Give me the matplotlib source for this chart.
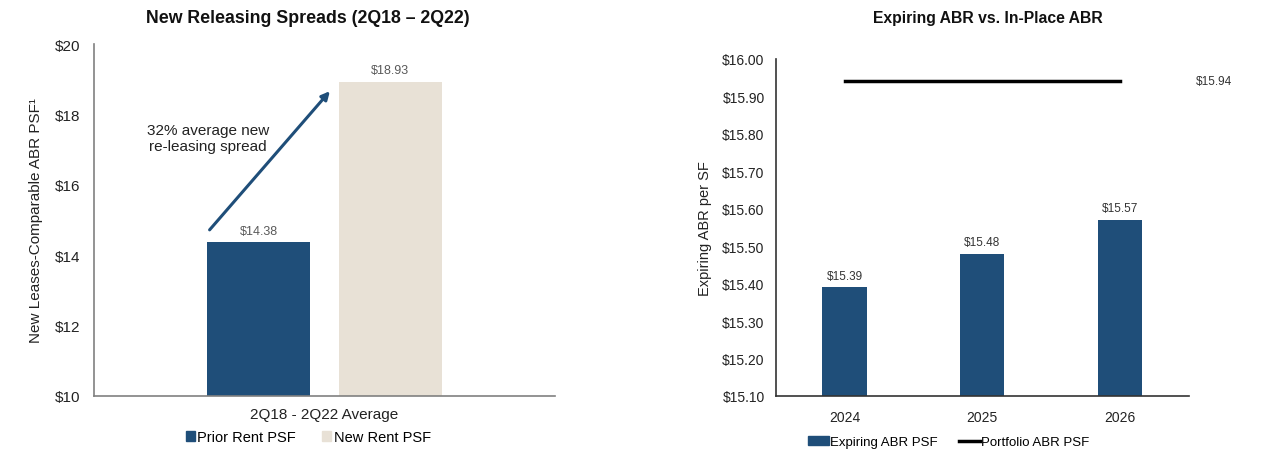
import matplotlib.pyplot as plt
from matplotlib.patches import Patch
from matplotlib.lines import Line2D

plt.rcParams['font.family'] = ['Liberation Sans', 'DejaVu Sans']

# left chart data
spread_category = ['2Q18 - 2Q22 Average']
prior_rent = [14.38]
new_rent = [18.93]
spread_note = '32% average new\nre-leasing spread'

# right chart data
years = ['2024', '2025', '2026']
expiring_abr = [15.39, 15.48, 15.57]
portfolio_abr = [15.94, 15.94, 15.94]

navy = '#1F4E79'
beige = '#E8E1D6'

fig = plt.figure(figsize=(12.8, 4.64), dpi=100)

##############################
# left: new releasing spreads
##############################
ax1 = fig.add_axes([0.0734, 0.1444, 0.360, 0.7586])
bw = 0.223
ax1.bar([-0.143], prior_rent, width=bw, color=navy)
ax1.bar([0.143], new_rent, width=bw, color=beige)
ax1.set_ylim(10, 20)
ax1.set_xlim(-0.5, 0.5)
ax1.set_yticks([10, 12, 14, 16, 18, 20])
ax1.set_yticklabels(['$%d' % v for v in [10, 12, 14, 16, 18, 20]], fontsize=11)
ax1.set_xticks([0])
ax1.set_xticklabels(spread_category, fontsize=11)
ax1.tick_params(length=0, pad=10, colors='#222222')
ax1.tick_params(axis='x', pad=8)
for s in ['top', 'right']:
    ax1.spines[s].set_visible(False)
for s in ['left', 'bottom']:
    ax1.spines[s].set_color('#808080')
    ax1.spines[s].set_linewidth(1.2)
ax1.set_ylabel('New Leases-Comparable ABR PSF¹', fontsize=11, labelpad=8, color='#222222')

ax1.text(-0.143, prior_rent[0] + 0.15, '$%.2f' % prior_rent[0], ha='center', va='bottom',
         fontsize=9, color='#595959')
ax1.text(0.143, new_rent[0] + 0.15, '$%.2f' % new_rent[0], ha='center', va='bottom',
         fontsize=9, color='#595959')
ax1.annotate('', xy=(0.016, 18.72), xytext=(-0.253, 14.66),
             arrowprops=dict(arrowstyle='-|>', color=navy, lw=2.2, mutation_scale=12))
ax1.text(-0.253, 17.33, spread_note, ha='center', va='center', fontsize=11, color='#222222',
         linespacing=1.15)

fig.text(0.2406, 0.96, 'New Releasing Spreads (2Q18 – 2Q22)', ha='center', va='center',
         fontsize=12.8, fontweight='bold', color='#111111')

h1 = [Patch(color=navy), Patch(color=beige)]
ax1.legend(h1, ['Prior Rent PSF', 'New Rent PSF'], loc='center', bbox_to_anchor=(0.241, 0.056),
           bbox_transform=fig.transFigure, ncol=2, frameon=False, fontsize=10.5,
           handlelength=0.6, handleheight=0.6, handletextpad=0.2, columnspacing=1.8)

##############################
# right: expiring vs in-place
##############################
ax2 = fig.add_axes([0.606, 0.1444, 0.3227, 0.7263])
x = range(len(years))
ax2.bar(x, expiring_abr, width=0.32, color=navy)
ax2.plot(x, portfolio_abr, color='black', lw=2.5)
ax2.set_ylim(15.10, 16.00)
ax2.set_xlim(-0.5, 2.5)
ticks = [15.10 + 0.1 * i for i in range(10)]
ax2.set_yticks(ticks)
ax2.set_yticklabels(['$%.2f' % t for t in ticks], fontsize=10)
ax2.set_xticks(list(x))
ax2.set_xticklabels(years, fontsize=10)
ax2.tick_params(length=0, pad=8, colors='#222222')
ax2.tick_params(axis='x', pad=10)
for s in ['top', 'right']:
    ax2.spines[s].set_visible(False)
for s in ['left', 'bottom']:
    ax2.spines[s].set_color('#333333')
    ax2.spines[s].set_linewidth(1.2)
ax2.set_ylabel('Expiring ABR per SF', fontsize=10.5, labelpad=7, color='#222222')

for i, v in enumerate(expiring_abr):
    ax2.text(i, v + 0.015, '$%.2f' % v, ha='center', va='bottom', fontsize=8.5, color='#333333')
ax2.text(2.55, portfolio_abr[-1], '$%.2f' % portfolio_abr[-1], ha='left', va='center',
         fontsize=8.5, color='#333333')

fig.text(0.772, 0.96, 'Expiring ABR vs. In-Place ABR', ha='center', va='center',
         fontsize=11.3, fontweight='bold', color='#111111')

h2 = [Patch(color=navy), Line2D([0], [0], color='black', lw=2.5)]
ax2.legend(h2, ['Expiring ABR PSF', 'Portfolio ABR PSF'], loc='center', bbox_to_anchor=(0.741, 0.045),
           bbox_transform=fig.transFigure, ncol=2, frameon=False, fontsize=9.5,
           handlelength=1.6, handleheight=0.6, handletextpad=0.1, columnspacing=1.6)

plt.savefig('out.png', dpi=100)
